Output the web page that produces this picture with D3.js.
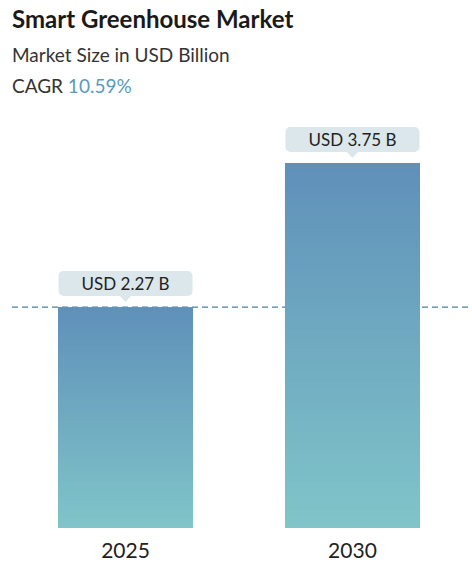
<!DOCTYPE html><html><head><meta charset="utf-8">
<script src="https://cdn.jsdelivr.net/npm/d3@7"></script>
<style>body{margin:0;background:#fff}text{font-family:Lato,"Open Sans",sans-serif}</style></head><body>
<svg id="c" width="472" height="564"></svg>
<script>
const categories=["2025","2030"];
const values=[2.27,3.75];
const labels=["USD 2.27 B","USD 3.75 B"];
const svg=d3.select("#c");
svg.append("text").attr("x",12).attr("y",28).attr("font-size",24).attr("font-weight",700).attr("fill","#1a1a1a").text("Smart Greenhouse Market");
svg.append("text").attr("x",12).attr("y",62).attr("font-size",19).attr("fill","#333").text("Market Size in USD Billion");
const c=svg.append("text").attr("x",12).attr("y",93).attr("font-size",19).attr("fill","#333");
c.append("tspan").text("CAGR ");
c.append("tspan").attr("fill","#5b9ac0").text("10.59%");
const defs=svg.append("defs");
const g=defs.append("linearGradient").attr("id","gr").attr("x1",0).attr("y1",0).attr("x2",0).attr("y2",1);
g.append("stop").attr("offset","0%").attr("stop-color","#5f90b9");
g.append("stop").attr("offset","100%").attr("stop-color","#80c5c9");
const x=d3.scaleBand().domain(categories).range([58,420]).paddingInner(0.405).paddingOuter(0);
const y=d3.scaleLinear().domain([0,3.75]).range([528,163]);
svg.append("line").attr("x1",12).attr("x2",470).attr("y1",y(values[0])).attr("y2",y(values[0])).attr("stroke","#4a7ea6").attr("stroke-width",1.2).attr("stroke-dasharray","6,4");
categories.forEach((k,i)=>{
  const bx=x(k),bw=x.bandwidth(),top=y(values[i]);
  svg.append("rect").attr("x",bx).attr("y",top).attr("width",bw).attr("height",y(0)-top).attr("fill","url(#gr)");
  const cx=bx+bw/2;
  svg.append("rect").attr("x",cx-67).attr("y",top-36).attr("width",134).attr("height",25).attr("rx",5).attr("fill","#dce7eb");
  svg.append("path").attr("d",`M${cx-6},${top-11.5}L${cx+6},${top-11.5}L${cx},${top-5}Z`).attr("fill","#dce7eb");
  svg.append("text").attr("x",cx).attr("y",top-17).attr("text-anchor","middle").attr("font-size",17).attr("fill","#222").text(labels[i]);
  svg.append("text").attr("x",cx).attr("y",558).attr("text-anchor","middle").attr("font-size",21).attr("fill","#222").text(k);
});
</script></body></html>
